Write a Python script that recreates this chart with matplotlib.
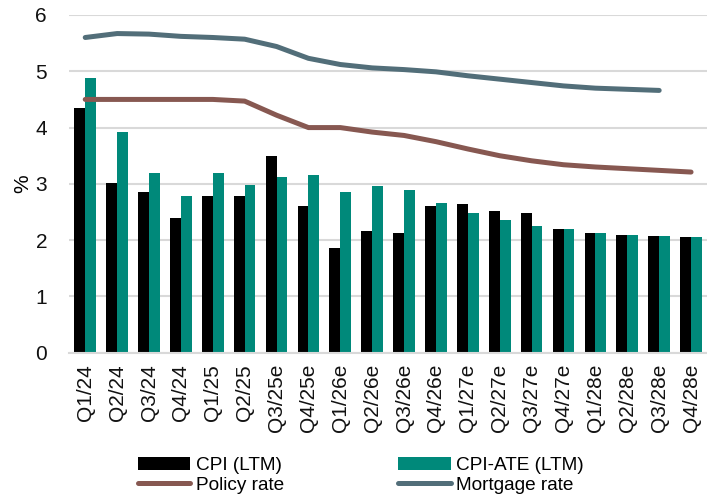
import numpy as np
import matplotlib
matplotlib.use('Agg')
import matplotlib.pyplot as plt

plt.rcParams['font.family'] = ['Liberation Sans', 'DejaVu Sans']

quarters = ['Q1/24', 'Q2/24', 'Q3/24', 'Q4/24', 'Q1/25', 'Q2/25', 'Q3/25e', 'Q4/25e',
            'Q1/26e', 'Q2/26e', 'Q3/26e', 'Q4/26e', 'Q1/27e', 'Q2/27e', 'Q3/27e', 'Q4/27e',
            'Q1/28e', 'Q2/28e', 'Q3/28e', 'Q4/28e']
cpi = [4.35, 3.02, 2.86, 2.40, 2.79, 2.79, 3.50, 2.60, 1.86, 2.17,
       2.12, 2.61, 2.64, 2.51, 2.48, 2.19, 2.12, 2.09, 2.07, 2.06]
cpi_ate = [4.88, 3.92, 3.19, 2.79, 3.19, 2.98, 3.12, 3.16, 2.85, 2.96,
           2.89, 2.66, 2.49, 2.36, 2.25, 2.19, 2.12, 2.09, 2.08, 2.06]
policy_rate = [4.50, 4.50, 4.50, 4.50, 4.50, 4.47, 4.22, 4.00, 4.00, 3.92,
               3.86, 3.75, 3.62, 3.50, 3.41, 3.34, 3.30, 3.27, 3.24, 3.21]
mortgage_rate = [5.60, 5.67, 5.66, 5.62, 5.60, 5.57, 5.44, 5.23, 5.12, 5.06,
                 5.03, 4.99, 4.92, 4.86, 4.80, 4.74, 4.70, 4.68, 4.66]

x = np.arange(len(quarters))
w = 0.34
fs_tick = 15
fs_leg = 13.7

fig = plt.figure(figsize=(7.07, 4.99), dpi=100)
ax = fig.add_axes([0.098, 0.293, 0.902, 0.677])

b1 = ax.bar(x - w / 2, cpi, w, color='black', label='CPI (LTM)', zorder=2)
b2 = ax.bar(x + w / 2, cpi_ate, w, color='#00897A', label='CPI-ATE (LTM)', zorder=2)
l1, = ax.plot(x, policy_rate, color='#875851', lw=3.6, solid_capstyle='round',
              label='Policy rate', zorder=3)
l2, = ax.plot(x[:len(mortgage_rate)], mortgage_rate, color='#526E79', lw=3.6,
              solid_capstyle='round', label='Mortgage rate', zorder=3)

ax.set_xlim(-0.5, len(quarters) - 0.5)
ax.set_ylim(0, 6)
ax.set_yticks(range(0, 7))
ax.yaxis.grid(True, color='#D9D9D9', lw=1.5, zorder=0)
ax.set_axisbelow(True)
for s in ['top', 'right', 'left']:
    ax.spines[s].set_visible(False)
ax.spines['bottom'].set_color('#D9D9D9')
ax.spines['bottom'].set_linewidth(1.5)
ax.tick_params(axis='both', length=0, labelsize=fs_tick, colors='#111111')
ax.tick_params(axis='y', pad=16)
ax.tick_params(axis='x', pad=8)
ax.set_xticks(x)
ax.set_xticklabels(quarters, rotation=90)
ax.set_ylabel('%', fontsize=fs_tick, labelpad=2)

fig.legend([b1, l1, b2, l2], ['CPI (LTM)', 'Policy rate', 'CPI-ATE (LTM)', 'Mortgage rate'],
           ncol=2, loc='lower left', bbox_to_anchor=(0.195, 0.01), frameon=False,
           fontsize=fs_leg, handlelength=2.75, handletextpad=0.3, columnspacing=6.0,
           labelspacing=0.15, borderpad=0, borderaxespad=0)

fig.savefig('out.png', dpi=100)
